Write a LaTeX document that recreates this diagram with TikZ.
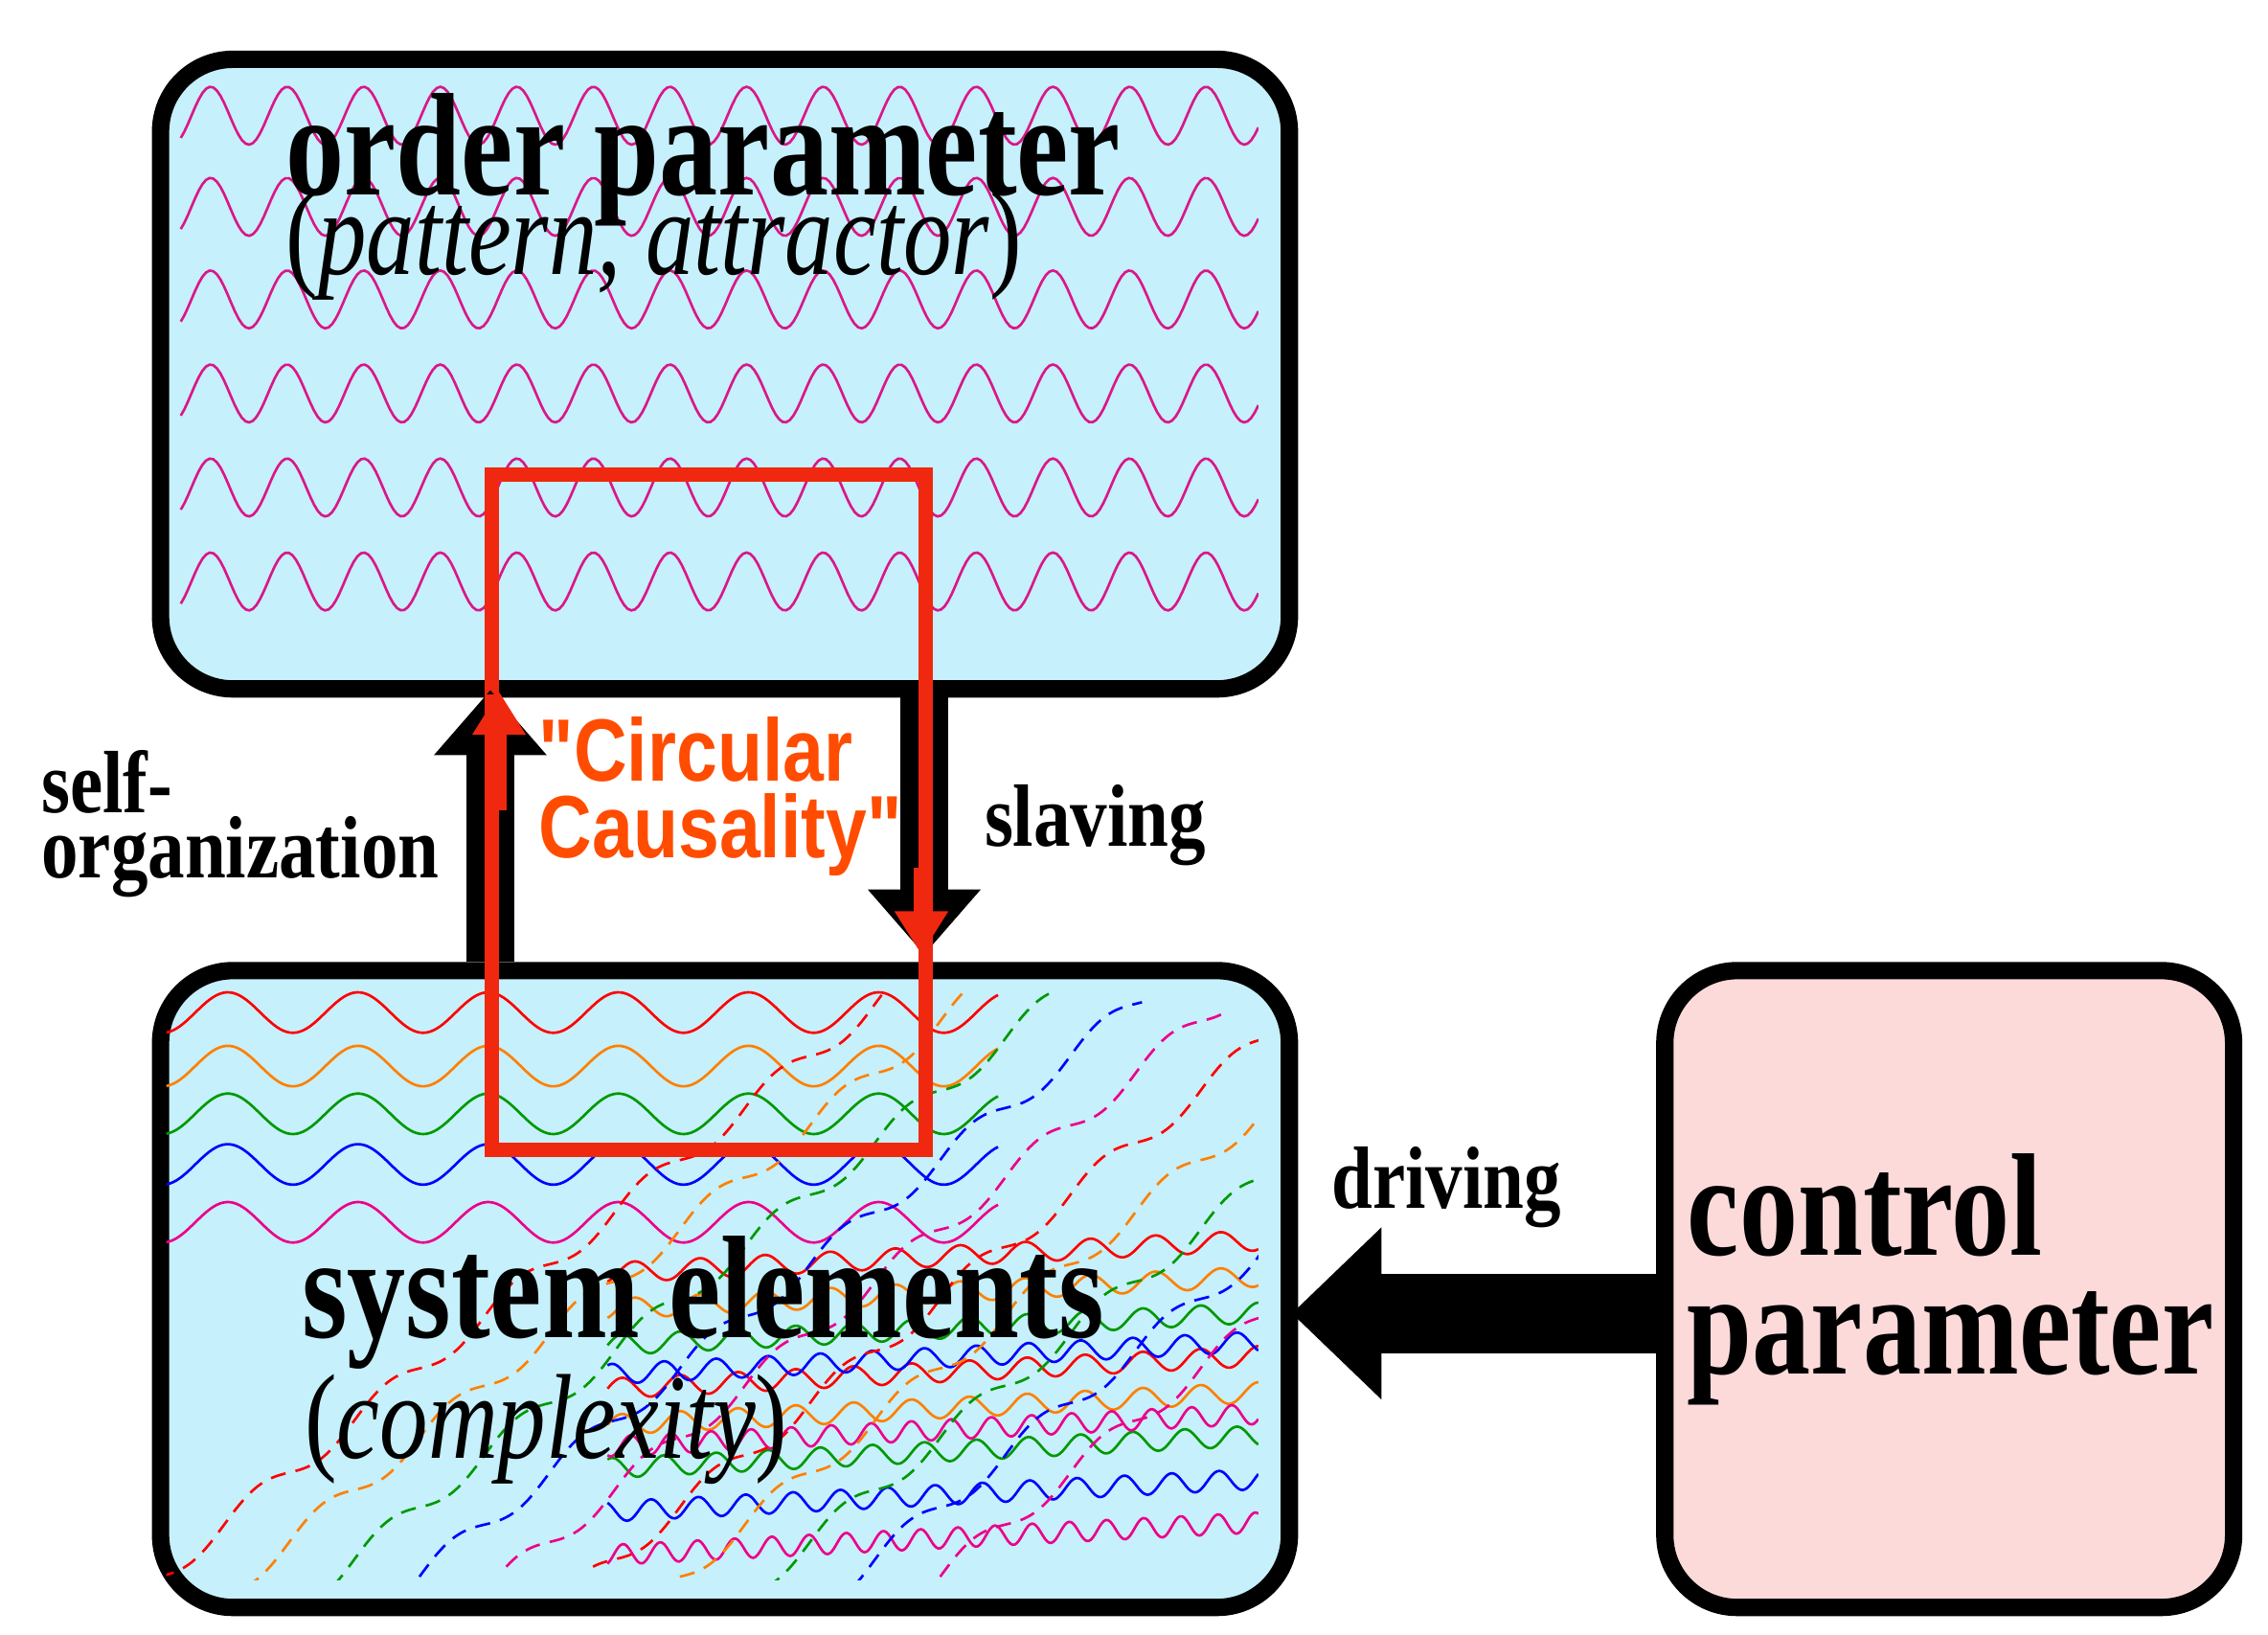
\documentclass[tikz,border=0pt]{standalone}
\usepackage{fontspec}
\setmainfont{Liberation Serif}
\newfontfamily\sansf{Liberation Sans}
\usetikzlibrary{arrows.meta}
\definecolor{boxblue}{HTML}{C6F0FB}
\definecolor{boxpink}{HTML}{FCDADA}
\definecolor{cred}{HTML}{F02810}
\begin{document}
\begin{tikzpicture}[x=0.01cm,y=-0.01cm,
  box/.style={draw=black,line width=12*0.01cm,rounded corners=0.5cm,inner sep=0},
  big/.style={font=\fontsize{23}{23}\selectfont\bfseries,anchor=base west,inner sep=0,yscale=1.25},
  ital/.style={font=\fontsize{19}{19}\selectfont,anchor=base west,inner sep=0,yscale=1.25},
  mid/.style={font=\fontsize{14.5}{14.5}\selectfont\bfseries,anchor=base west,inner sep=0,yscale=1.2},
  cc/.style={font=\sansf\fontsize{14.5}{14.5}\selectfont\bfseries,text=orange!60!red,anchor=base west,inner sep=0,yscale=1.2},
  fat/.style={line width=0.33cm,-{Triangle[length=0.45cm,width=0.75cm]}},
  wv/.style={line width=0.5pt}]
\useasboundingbox (0,0) rectangle (1568,1130);
% boxes
\node[box,fill=boxblue,minimum width=7.8cm,minimum height=4.35cm,anchor=north west] (top) at (105,35) {};
\node[box,fill=boxblue,minimum width=7.8cm,minimum height=4.4cm,anchor=north west] (sys) at (105,665) {};
\node[box,fill=boxpink,minimum width=3.93cm,minimum height=4.4cm,anchor=north west] (ctl) at (1145,665) {};
% top waves
\begin{scope}
\clip (120,50) rectangle (870,455);
\foreach \y in {80,143,207,272,337,402}
  \draw[wv,magenta!80!violet] plot[domain=125:870,samples=300] (\x,{\y+20*sin(\x*6.8)});
\end{scope}
% bottom waves
\begin{scope}
\clip (115,680) rectangle (870,1092);
\foreach \c/\y in {red/700,orange/737,green!60!black/770,blue/805,magenta/845}
  \draw[wv,\c] plot[domain=115:690,samples=250] (\x,{\y+14*sin(\x*4)});
\foreach \c/\y/\f in {red/960/9,orange/985/9,green!60!black/1015/10,blue/1045/11,magenta/1075/14,
                      red/880/8,orange/905/8,green!60!black/930/9,blue/950/10,magenta/1000/13}
  \draw[wv,\c] plot[domain=420:870,samples=300] (\x,{\y-0.05*(\x-420)+7*sin(\x*\f)});
\foreach \c/\s in {red/0,orange/60,green!60!black/120,blue/180,magenta/240,red/300,orange/360,green!60!black/420,blue/480,magenta/540}
  \draw[wv,\c,densely dashed] plot[domain=0:1,samples=200]
    ({110+\s+500*\x},{1090-400*\x+8*sin(\x*2000+\s)});
\end{scope}
% red loop
\draw[cred,line width=0.1cm] (340,328) rectangle (640,795);
% arrows
\coordinate (su) at (339,665);
\coordinate (sv) at (639,470);
\coordinate (cw) at (1145,908);
\coordinate (se) at (893,908);
\draw[fat] (su) -- (339,477);
\draw[fat] (sv) -- (639,660);
\draw[line width=0.55cm,-{Triangle[length=0.62cm,width=1.15cm]}] (cw) -- (se);
\draw[cred,line width=0.1cm,-{Triangle[length=0.3cm,width=0.35cm]}] (345,560) -- (345,478);
\draw[cred,line width=0.1cm,-{Triangle[length=0.3cm,width=0.35cm]}] (637,600) -- (637,660);
\draw[cred,line width=0.1cm] (340,480) -- (340,795) (640,470) -- (640,660);
% texts
\node[big] (t1) at (197,135) {order parameter};
\node[ital] (t2) at (197,190) {(\textit{pattern, attractor})};
\node[big] (t3) at (208,925) {system elements};
\node[ital] (t4) at (210,1008) {(\textit{complexity})};
\node[big] (t5) at (1166,868) {control};
\node[big] (t6) at (1166,950) {parameter};
\node[mid] (l1) at (28,562) {self-};
\node[mid] (l2) at (28,607) {organization};
\node[mid] (l3) at (680,585) {slaving};
\node[mid] (l4) at (920,835) {driving};
\node[cc] (c1) at (372,540) {"Circular};
\node[cc] (c2) at (372,593) {Causality"};
\end{tikzpicture}
\end{document}
